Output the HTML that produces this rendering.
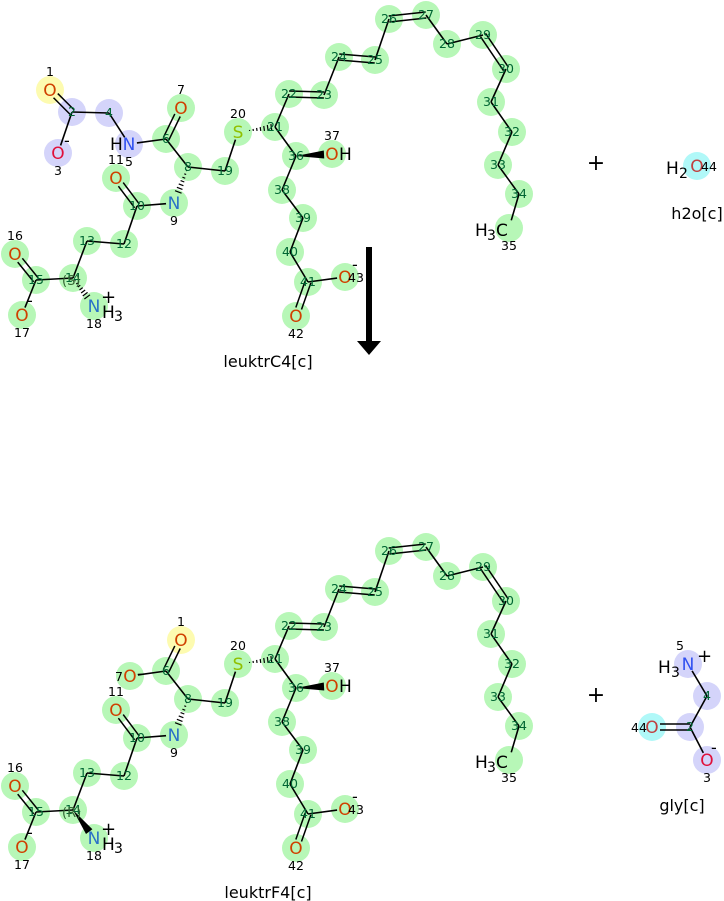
<!DOCTYPE html>
<html><head><meta charset="utf-8"><style>
body{margin:0;background:#fff}
svg{display:block;font-family:"DejaVu Sans","Liberation Sans",sans-serif}
</style></head><body>
<svg id="s" width="724" height="901" xmlns="http://www.w3.org/2000/svg"></svg>
<script>
const S=document.getElementById('s');
const NS='http://www.w3.org/2000/svg';
const gBg=document.createElementNS(NS,'g'),gB=document.createElementNS(NS,'g'),gT=document.createElementNS(NS,'g');
S.append(gBg,gB,gT);
function el(g,t,a,txt){const e=document.createElementNS(NS,t);for(const k in a)e.setAttribute(k,a[k]);if(txt!==undefined)e.textContent=txt;g.appendChild(e);return e;}
const G='#b7f7b7',L='#d4d4fa',Y='#fdfbb0',C='#b0f8f8';
function mol(A,B,dy){
 for(const k in A){const a=A[k];el(gBg,'circle',{cx:a[0],cy:a[1]+dy,r:14,fill:a[2]});}
 for(const b of B){
  const p=A[b[0]],q=A[b[1]];let x1=p[0],y1=p[1]+dy,x2=q[0],y2=q[1]+dy;
  const dx=x2-x1,dyy=y2-y1,len=Math.hypot(dx,dyy),ux=dx/len,uy=dyy/len;
  if(p[3]){x1+=ux*8;y1+=uy*8;} if(q[3]){x2-=ux*8;y2-=uy*8;}
  const t=b[2]||'s';
  if(t=='s') el(gB,'line',{x1,y1,x2,y2,stroke:'#000','stroke-width':1.6});
  else if(t=='d'){const nx=-uy*3,ny=ux*3;
   el(gB,'line',{x1:x1+nx,y1:y1+ny,x2:x2+nx,y2:y2+ny,stroke:'#000','stroke-width':1.5});
   el(gB,'line',{x1:x1-nx,y1:y1-ny,x2:x2-nx,y2:y2-ny,stroke:'#000','stroke-width':1.5});}
  else if(t=='h'){for(let i=1;i<=7;i++){const f=i/8,w=f*4,cx=x1+dx*f*(len-8)/len,cy=y1+dyy*f*(len-8)/len;
   el(gB,'line',{x1:cx-uy*w,y1:cy+ux*w,x2:cx+uy*w,y2:cy-ux*w,stroke:'#000','stroke-width':1.2});}}
  else if(t=='w'){el(gB,'polygon',{points:`${x1},${y1} ${x2-uy*4},${y2+ux*4} ${x2+uy*4},${y2-ux*4}`,fill:'#000'});}
 }
 for(const k in A){const a=A[k];const x=a[0],y=a[1]+dy;
  if(a[3]) el(gT,'text',{x:x,y:y+6,'font-size':17,fill:a[4],'text-anchor':'middle'},a[3]);
  const np=a[5]||[0,0];
  el(gT,'text',{x:x+np[0],y:y+np[1]+4,'font-size':12.5,fill:a[3]?'#000':'#063',"text-anchor":'middle'},a[6]||k);
 }
}
const O='#d04000',N='#2a70c8',Sy='#90c000';
function base(){return {
6:[166,139,G],8:[188,167,G],9:[174,203,G,'N',N,[0,18]],10:[137,206,G],
11:[116,178,G,'O',O,[0,-18]],12:[124,244,G],13:[87,241,G],14:[73,278,G],15:[36,280,G],
16:[15,254,G,'O',O,[0,-18]],17:[22,315,G,'O',O,[0,18]],18:[94,306,G,'N',N,[0,18]],19:[225,171,G],
20:[238,132,G,'S',Sy,[0,-18]],21:[275,127,G],22:[289,94,G],23:[324,95,G],24:[339,57,G],25:[375,60,G],
26:[389,19,G],27:[426,15,G],28:[447,44,G],29:[483,35,G],30:[506,69,G],31:[491,102,G],32:[512,132,G],
33:[498,165,G],34:[519,194,G],35:[509,228,G,' ','#000',[0,18]],36:[296,156,G],37:[332,154,G,'O',O,[0,-18]],
38:[282,190,G],39:[303,218,G],40:[290,252,G],41:[308,282,G],42:[296,316,G,'O',O,[0,18]],43:[345,277,G,'O',O,[11,1]]};}
const common=[[6,8],[8,9,'h'],[9,10],[10,11,'d'],[10,12],[12,13],[13,14],[14,15],[15,16,'d'],[15,17],[8,19],[19,20],[20,21,'h'],
[21,22],[22,23,'d'],[23,24],[24,25,'d'],[25,26],[26,27,'d'],[27,28],[28,29],[29,30,'d'],[30,31],[31,32],[32,33],[33,34],[34,35],
[21,36],[36,37,'w'],[36,38],[38,39],[39,40],[40,41],[41,42,'d'],[41,43]];
let A=base();
Object.assign(A,{1:[50,90,Y,'O',O,[0,-18]],2:[72,112,L],3:[58,153,L,'O','#e0103a',[0,18]],4:[109,113,L],5:[129,144,L,'N','#3050f0',[0,18]],7:[181,108,G,'O',O,[0,-18]]});
mol(A,common.concat([[1,2,'d'],[2,3],[2,4],[4,5],[5,6],[6,7,'d'],[14,18,'h']]),0);
let Bm=base();
Object.assign(Bm,{1:[181,108,Y,'O',O,[0,-18]],7:[130,144,G,'O',O,[-11,1]]});
mol(Bm,common.concat([[6,1,'d'],[6,7],[14,18,'w']]),532);
mol({5:[688,132,L,'N','#3050f0',[-8,-18]],4:[707,164,L],2:[690,195,L],44:[652,195,C,'O','#c04040',[-13,1]],3:[707,228,L,'O','#e0103a',[0,18]]},
 [[5,4],[4,2],[2,44,'d'],[2,3]],532);
mol({44:[697,166,C,'O','#c04040',[12,1]]},[],0);
function T(x,y,s,t,a){return el(gT,'text',{x,y,'font-size':s,fill:'#000','text-anchor':a||'start'},t);}
for(const dy of [0,532]){
 T(339,160+dy,17,'H');
 T(102,318+dy,17,'H');T(114,321+dy,14,'3');
 T(101,303+dy,18,'+');
 T(475,236+dy,17,'H');T(487,240+dy,14,'3');T(496,236+dy,17,'C');
 T(27,306+dy,16,'-');T(352,270+dy,16,'-');
 T(62,285+dy,13,dy?'(R)':'(S)').setAttribute('fill','#363');
}
T(110,150,17,'H');T(64,146,16,'-');T(137,679,16,'-');
T(658,673,17,'H');T(671,677,14,'3');T(697,662,18,'+');T(711,753,16,'-');
T(666,174,17,'H');T(679,178,14,'2');
T(596,170,22,'+','middle');T(596,702,22,'+','middle');
T(268,367,16,'leuktrC4[c]','middle');T(268,898,16,'leuktrF4[c]','middle');
T(697,219,16,'h2o[c]','middle');T(682,811,16,'gly[c]','middle');
el(gB,'rect',{x:366,y:247,width:6,height:95,fill:'#000'});
el(gB,'polygon',{points:'357,341 381,341 369,355',fill:'#000'});
</script>
</body></html>
